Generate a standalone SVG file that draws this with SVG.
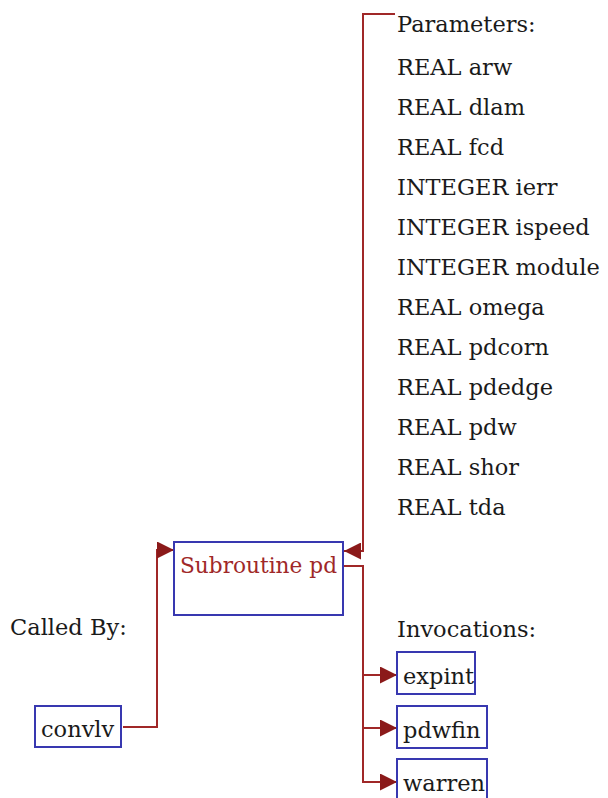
<svg xmlns="http://www.w3.org/2000/svg" width="608" height="798" viewBox="0 0 608 798">
<defs>
<style>
text{font-family:"DejaVu Serif","Liberation Serif",serif;font-size:22.5px;fill:#1a1a1a}
.node rect{fill:#fff;stroke:#3838b0;stroke-width:2}
.main text{fill:#a02828}
.edge{fill:none;stroke:#a02828;stroke-width:2}
</style>
<marker id="ah" markerWidth="17" markerHeight="17" refX="17" refY="8.5" orient="auto" markerUnits="userSpaceOnUse">
<path d="M0,0 L17,8.5 L0,17 z" fill="#8b1a1a"/>
</marker>
</defs>
<rect width="608" height="798" fill="#fff"/>
<g id="connectors">
<path class="edge" d="M395,14 H363 V551 H344" marker-end="url(#ah)"/>
<path class="edge" d="M123,727 H157 V550 H174" marker-end="url(#ah)"/>
<path class="edge" d="M343,566 H363 V782 H397" marker-end="url(#ah)"/>
<path class="edge" d="M363,675 H397" marker-end="url(#ah)"/>
<path class="edge" d="M363,728 H397" marker-end="url(#ah)"/>
</g>
<g id="parameters">
<text x="397" y="32">Parameters:</text>
<text x="397" y="75">REAL arw</text>
<text x="397" y="115">REAL dlam</text>
<text x="397" y="155">REAL fcd</text>
<text x="397" y="195">INTEGER ierr</text>
<text x="397" y="235">INTEGER ispeed</text>
<text x="397" y="275">INTEGER module</text>
<text x="397" y="315">REAL omega</text>
<text x="397" y="355">REAL pdcorn</text>
<text x="397" y="395">REAL pdedge</text>
<text x="397" y="435">REAL pdw</text>
<text x="397" y="475">REAL shor</text>
<text x="397" y="515">REAL tda</text>
</g>
<g id="node-pd" class="node main">
<rect x="174" y="542" width="169" height="73"/>
<text x="180" y="573" textLength="157" lengthAdjust="spacingAndGlyphs">Subroutine pd</text>
</g>
<g id="label-calledby"><text x="10" y="635">Called By:</text></g>
<g id="node-convlv" class="node">
<rect x="35" y="706" width="86" height="41"/>
<text x="41" y="737">convlv</text>
</g>
<g id="label-invocations"><text x="397" y="637">Invocations:</text></g>
<g id="node-expint" class="node">
<rect x="397" y="652" width="78" height="42"/>
<text x="403" y="684">expint</text>
</g>
<g id="node-pdwfin" class="node">
<rect x="397" y="706" width="90" height="42"/>
<text x="403" y="738">pdwfin</text>
</g>
<g id="node-warren" class="node">
<rect x="397" y="759" width="90" height="42"/>
<text x="403" y="791">warren</text>
</g>
</svg>
